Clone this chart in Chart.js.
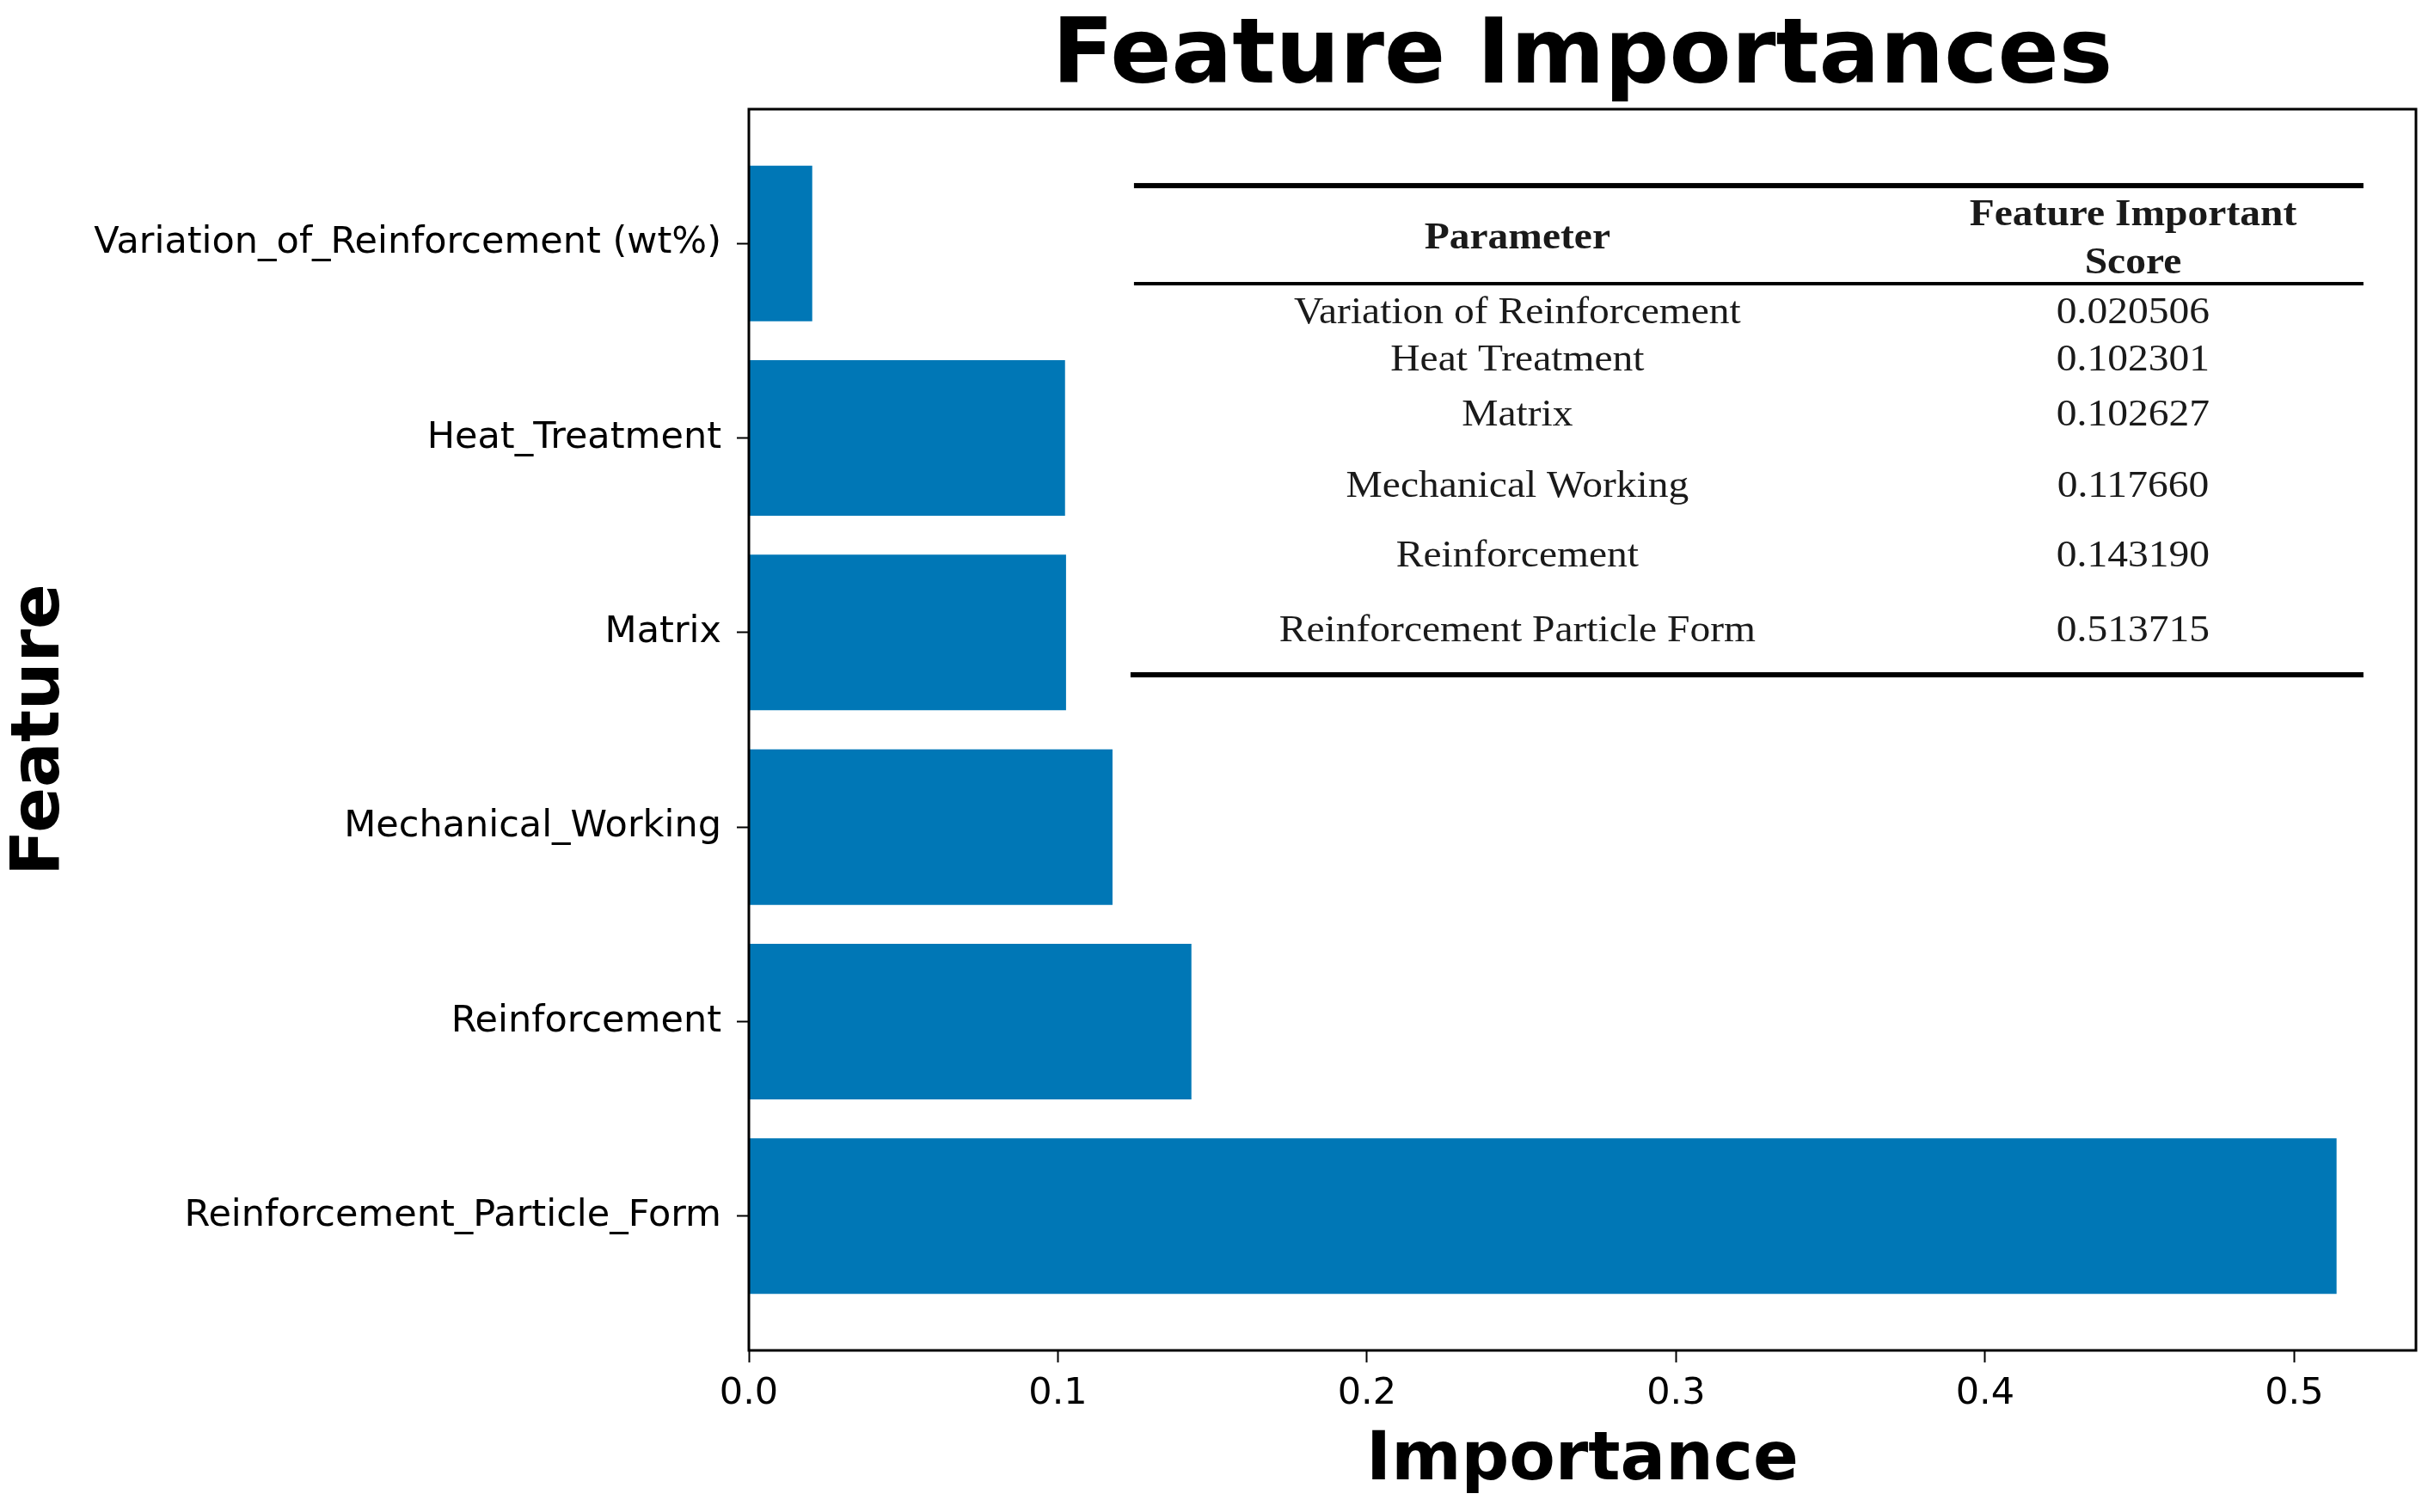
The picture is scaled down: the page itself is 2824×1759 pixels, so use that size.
<!DOCTYPE html>
<html lang="en">
<head>
    <meta charset="UTF-8">
    <title>Feature Importances</title>
    <style>
        body {
            margin: 0;
            padding: 0;
            background-color: #fff;
        }
    </style>
</head>
<body>
    <canvas id="chart" width="2824" height="1759"></canvas>

    <script src="https://cdn.jsdelivr.net/npm/chart.js"></script>
    <script>
        // Data (bottom to top, like matplotlib barh)
        const features = [
            "Reinforcement_Particle_Form",
            "Reinforcement",
            "Mechanical_Working",
            "Matrix",
            "Heat_Treatment",
            "Variation_of_Reinforcement (wt%)"
        ];
        const importances = [0.513715, 0.143190, 0.117660, 0.102627, 0.102301, 0.020506];
        const xTicks = [0.0, 0.1, 0.2, 0.3, 0.4, 0.5];

        // Inset table (top to bottom)
        const tableHeader = ["Parameter", "Feature Important", "Score"];
        const tableParameters = [
            "Variation of Reinforcement",
            "Heat Treatment",
            "Matrix",
            "Mechanical Working",
            "Reinforcement",
            "Reinforcement Particle Form"
        ];
        const tableScores = ["0.020506", "0.102301", "0.102627", "0.117660", "0.143190", "0.513715"];

        const sans = "'DejaVu Sans', sans-serif";
        const xMax = Math.max(...importances) * 1.05;

        // Black frame round the plot area
        const framePlugin = {
            id: "frame",
            afterDatasetsDraw(chart) {
                const { ctx, chartArea: a } = chart;
                ctx.save();
                ctx.strokeStyle = "#000";
                ctx.lineWidth = 3;
                ctx.strokeRect(a.left, a.top, a.right - a.left, a.bottom - a.top);
                ctx.restore();
            }
        };

        // Inset table drawn inside the plot area
        const tablePlugin = {
            id: "insetTable",
            afterDraw(chart) {
                const { ctx, chartArea: a } = chart;
                const W = a.right - a.left, H = a.bottom - a.top;
                const px = f => a.left + f * W;
                const py = f => a.top + f * H;

                ctx.save();
                ctx.fillStyle = "#000";
                const x0 = px(0.231), x1 = px(0.9685);
                ctx.fillRect(x0, py(0.0616) - 3, x1 - x0, 6);
                ctx.fillRect(x0, py(0.1406) - 2, x1 - x0, 4);
                ctx.fillRect(x0 - 4, py(0.4557) - 3, x1 - x0 + 4, 6);

                function text(str, x, y, bold) {
                    ctx.save();
                    ctx.fillStyle = "#1a1a1a";
                    ctx.font = (bold ? "bold " : "") + "44px 'Liberation Serif', serif";
                    ctx.textAlign = "center";
                    ctx.textBaseline = "middle";
                    ctx.translate(x, y + 2);
                    ctx.scale(1.08, 1);
                    ctx.fillText(str, 0, 0);
                    ctx.restore();
                }

                const colParam = px(0.461), colScore = px(0.8303);
                text(tableHeader[0], colParam, py(0.1032), true);
                text(tableHeader[1], colScore, py(0.0845), true);
                text(tableHeader[2], colScore, py(0.1233), true);

                const rowY = [0.1627, 0.2012, 0.2452, 0.3026, 0.3587, 0.4190];
                tableParameters.forEach((p, i) => {
                    text(p, colParam, py(rowY[i]), false);
                    text(tableScores[i], colScore, py(rowY[i]), false);
                });
                ctx.restore();
            }
        };

        const tickGrid = {
            offset: false,
            drawOnChartArea: false,
            drawTicks: true,
            tickLength: 14,
            tickWidth: 2,
            color: "#000"
        };

        new Chart(document.getElementById("chart"), {
            type: "bar",
            data: {
                datasets: [{
                    data: importances.map((v, i) => ({ x: v, y: i })),
                    backgroundColor: "#0077b6",
                    borderWidth: 0,
                    categoryPercentage: 1.0,
                    barPercentage: 0.8
                }]
            },
            options: {
                responsive: false,
                animation: false,
                indexAxis: "y",
                layout: { padding: { left: 0, right: 14, top: 0, bottom: 0 } },
                plugins: {
                    legend: { display: false },
                    tooltip: { enabled: false },
                    title: {
                        display: true,
                        text: "Feature Importances",
                        fullSize: false,
                        color: "#000",
                        font: { family: sans, size: 105, weight: "bold", lineHeight: 1 },
                        padding: { top: 16, bottom: 6 }
                    }
                },
                scales: {
                    x: {
                        type: "linear",
                        min: 0,
                        max: xMax,
                        afterBuildTicks: s => { s.ticks = xTicks.map(v => ({ value: v })); },
                        afterFit: s => { s.height = 188; },
                        border: { display: false },
                        grid: tickGrid,
                        ticks: {
                            color: "#000",
                            font: { family: sans, size: 43 },
                            padding: 11,
                            autoSkip: false,
                            maxRotation: 0,
                            callback: v => Number(v).toFixed(1)
                        },
                        title: {
                            display: true,
                            text: "Importance",
                            color: "#000",
                            font: { family: sans, size: 78, weight: "bold", lineHeight: 1 },
                            padding: { top: 0, bottom: 19 }
                        }
                    },
                    y: {
                        type: "linear",
                        offset: false,
                        min: -0.69,
                        max: 5.69,
                        afterBuildTicks: s => { s.ticks = features.map((f, i) => ({ value: i })); },
                        afterFit: s => { s.width = 871; },
                        border: { display: false },
                        grid: tickGrid,
                        ticks: {
                            color: "#000",
                            font: { family: sans, size: 43 },
                            padding: 18,
                            autoSkip: false,
                            callback: v => features[v]
                        },
                        title: {
                            display: true,
                            text: "Feature",
                            color: "#000",
                            font: { family: sans, size: 78, weight: "bold", lineHeight: 1 },
                            padding: { top: 9, bottom: 0 }
                        }
                    }
                }
            },
            plugins: [framePlugin, tablePlugin]
        });
    </script>
</body>
</html>
